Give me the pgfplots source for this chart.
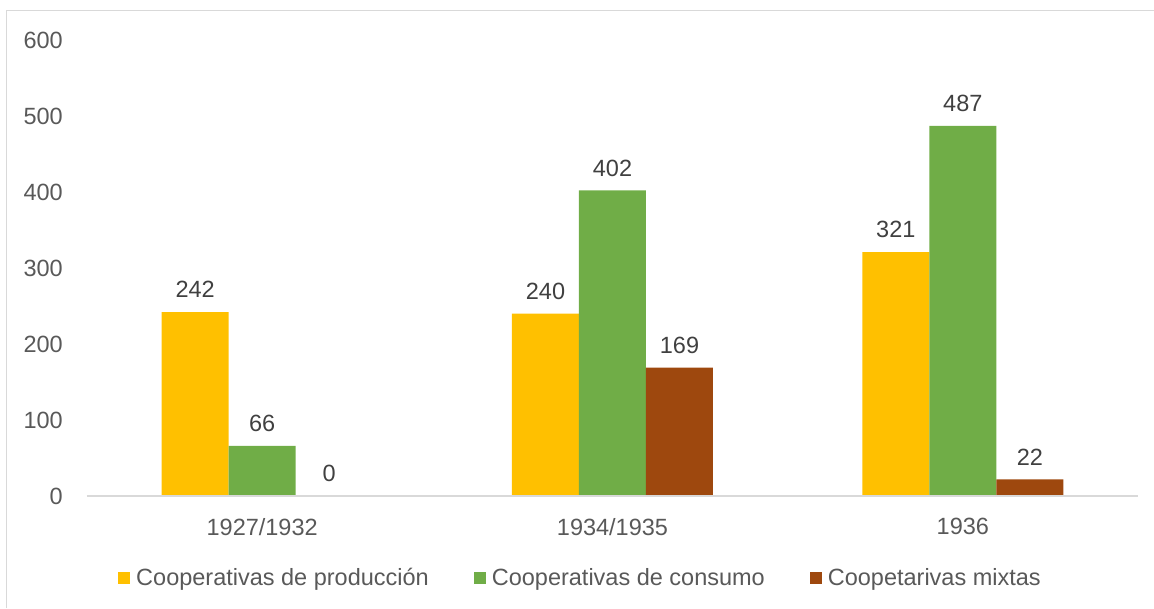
\documentclass[border=0pt]{standalone}
\usepackage{pgfplots}
\pgfplotsset{compat=1.18}
\usepackage{fontspec}
\setmainfont{Liberation Sans}
\definecolor{cprod}{HTML}{FFC000}
\definecolor{ccons}{HTML}{70AD47}
\definecolor{cmix}{HTML}{9E480E}
\definecolor{txt}{HTML}{595959}
\definecolor{lbl}{HTML}{404040}
\definecolor{frame}{HTML}{D9D9D9}
\newcommand{\chartfont}{\fontsize{23.5}{28}\selectfont}
\begin{document}
\begin{tikzpicture}[x=1pt,y=1pt]
\useasboundingbox (0,0) rectangle (1154,608);
% chart frame (only left and top edges are visible)
\draw[frame,line width=1.2pt] (6.5,0) -- (6.5,597.5) -- (1154,597.5);
\begin{axis}[
    at={(87pt,112pt)}, anchor=south west,
    scale only axis,
    width=1051pt, height=456pt,
    ybar=0pt,
    bar width=67pt,
    xmin=-0.5, xmax=2.5,
    ymin=0, ymax=600,
    xtick={0,1,2},
    xticklabels={1927/1932, 1934/1935, 1936},
    ytick={0,100,...,600},
    axis y line*=left,
    axis x line*=bottom,
    y axis line style={draw=none},
    x axis line style={frame, line width=1.5pt, -},
    axis on top,
    major tick length=0pt,
    font=\chartfont,
    tick label style={text=txt},
    /pgf/number format/assume math mode=true,
    yticklabel style={anchor=east, inner sep=0pt, xshift=-24pt},
    xticklabel style={anchor=north, inner sep=0pt, yshift=-22pt},
    nodes near coords,
    nodes near coords style={text=lbl, font=\chartfont, inner sep=0pt, yshift=14pt, anchor=south},
    legend columns=3,
    legend style={draw=none, at={(0.5,-0.18)}, anchor=center, xshift=-33pt,
        font=\chartfont, text=txt,
        nodes={inner sep=0pt},
        /tikz/every odd column/.append style={column sep=6pt},
        /tikz/every even column/.append style={column sep=45pt}},
    legend image code/.code={\fill[#1] (0pt,-6pt) rectangle (12pt,6pt);},
    clip=false,
]
\addplot[fill=cprod, draw=none] coordinates {(0,242) (1,240) (2,321)};
\addplot[fill=ccons, draw=none] coordinates {(0,66) (1,402) (2,487)};
\addplot[fill=cmix, draw=none] coordinates {(0,0) (1,169) (2,22)};
\legend{Cooperativas de producción, Cooperativas de consumo, Coopetarivas mixtas}
\end{axis}
\end{tikzpicture}
\end{document}
